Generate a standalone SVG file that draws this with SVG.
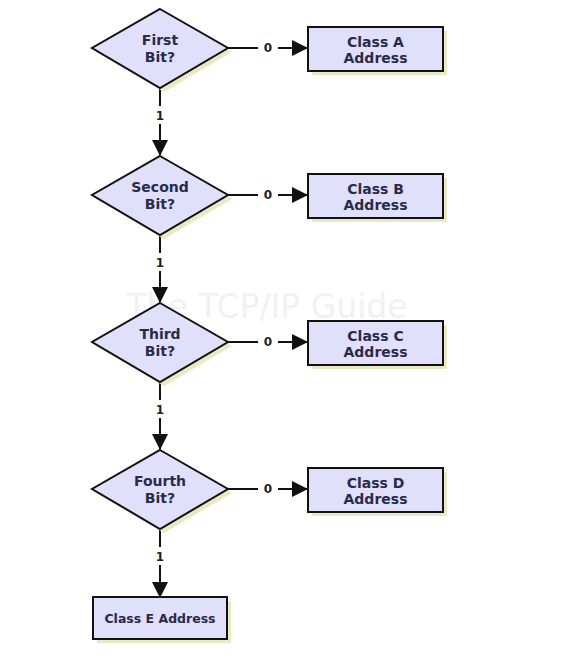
<svg xmlns="http://www.w3.org/2000/svg" width="564" height="663" viewBox="0 0 564 663">
<defs>
<style>
.sh{fill:#ebe8c4;stroke:none}
.nd{fill:#e0e0fa;stroke:#111;stroke-width:2}
.t{font-family:"DejaVu Sans",Verdana,sans-serif;font-weight:bold;font-size:14px;fill:#2a2a4a;text-anchor:middle}
.te{font-family:"DejaVu Sans",Verdana,sans-serif;font-weight:bold;font-size:12.5px;fill:#2a2a4a;text-anchor:middle}
.l{font-family:"DejaVu Sans",Verdana,sans-serif;font-weight:bold;font-size:12px;fill:#222;text-anchor:middle}
.c{stroke:#111;stroke-width:2;fill:none}
.wm{font-family:"DejaVu Sans",Verdana,sans-serif;font-size:33px;fill:#f1f1f1;text-anchor:middle}
</style>
<marker id="ahd" markerWidth="16" markerHeight="16" refX="15" refY="8" orient="auto" markerUnits="userSpaceOnUse" viewBox="0 0 16 16">
<path d="M0,0 L16,8 L0,16 z" fill="#111"/>
</marker>
</defs>
<rect width="564" height="663" fill="#fff"/>
<text class="wm" x="267" y="318">The TCP/IP Guide</text>
<g id="connectors">
<line class="c" x1="228" y1="48" x2="258" y2="48"/>
<line class="c" x1="278" y1="48" x2="307" y2="48" marker-end="url(#ahd)"/>
<text class="l" x="268" y="52">0</text>
<line class="c" x1="228" y1="195" x2="258" y2="195"/>
<line class="c" x1="278" y1="195" x2="307" y2="195" marker-end="url(#ahd)"/>
<text class="l" x="268" y="199">0</text>
<line class="c" x1="228" y1="342" x2="258" y2="342"/>
<line class="c" x1="278" y1="342" x2="307" y2="342" marker-end="url(#ahd)"/>
<text class="l" x="268" y="346">0</text>
<line class="c" x1="228" y1="489" x2="258" y2="489"/>
<line class="c" x1="278" y1="489" x2="307" y2="489" marker-end="url(#ahd)"/>
<text class="l" x="268" y="493">0</text>
<line class="c" x1="160" y1="88" x2="160" y2="106"/>
<line class="c" x1="160" y1="124" x2="160" y2="155" marker-end="url(#ahd)"/>
<text class="l" x="160" y="120">1</text>
<line class="c" x1="160" y1="235" x2="160" y2="253"/>
<line class="c" x1="160" y1="271" x2="160" y2="302" marker-end="url(#ahd)"/>
<text class="l" x="160" y="267">1</text>
<line class="c" x1="160" y1="382" x2="160" y2="400"/>
<line class="c" x1="160" y1="418" x2="160" y2="449" marker-end="url(#ahd)"/>
<text class="l" x="160" y="414">1</text>
<line class="c" x1="160" y1="529" x2="160" y2="547"/>
<line class="c" x1="160" y1="565" x2="160" y2="597" marker-end="url(#ahd)"/>
<text class="l" x="160" y="561">1</text>
</g>
<g id="d1">
<polygon class="sh" points="164,13 232,52 164,92 96,52"/>
<polygon class="nd" points="160,9 228,48 160,88 92,48"/>
<text class="t" x="160" y="45">First</text>
<text class="t" x="160" y="62">Bit?</text>
</g>
<g id="d2">
<polygon class="sh" points="164,160 232,199 164,239 96,199"/>
<polygon class="nd" points="160,156 228,195 160,235 92,195"/>
<text class="t" x="160" y="192">Second</text>
<text class="t" x="160" y="209">Bit?</text>
</g>
<g id="d3">
<polygon class="sh" points="164,307 232,346 164,386 96,346"/>
<polygon class="nd" points="160,303 228,342 160,382 92,342"/>
<text class="t" x="160" y="339">Third</text>
<text class="t" x="160" y="356">Bit?</text>
</g>
<g id="d4">
<polygon class="sh" points="164,454 232,493 164,533 96,493"/>
<polygon class="nd" points="160,450 228,489 160,529 92,489"/>
<text class="t" x="160" y="486">Fourth</text>
<text class="t" x="160" y="503">Bit?</text>
</g>
<g id="bA">
<rect class="sh" x="312" y="31" width="135" height="44"/>
<rect class="nd" x="308" y="27" width="135" height="44"/>
<text class="t" x="375.5" y="47">Class A</text>
<text class="t" x="375.5" y="63">Address</text>
</g>
<g id="bB">
<rect class="sh" x="312" y="178" width="135" height="44"/>
<rect class="nd" x="308" y="174" width="135" height="44"/>
<text class="t" x="375.5" y="194">Class B</text>
<text class="t" x="375.5" y="210">Address</text>
</g>
<g id="bC">
<rect class="sh" x="312" y="325" width="135" height="44"/>
<rect class="nd" x="308" y="321" width="135" height="44"/>
<text class="t" x="375.5" y="341">Class C</text>
<text class="t" x="375.5" y="357">Address</text>
</g>
<g id="bD">
<rect class="sh" x="312" y="472" width="135" height="44"/>
<rect class="nd" x="308" y="468" width="135" height="44"/>
<text class="t" x="375.5" y="488">Class D</text>
<text class="t" x="375.5" y="504">Address</text>
</g>
<g id="bE">
<rect class="sh" x="97" y="601" width="134" height="42"/>
<rect class="nd" x="93" y="597" width="134" height="42"/>
<text class="te" x="160" y="623">Class E Address</text>
</g>
</svg>
